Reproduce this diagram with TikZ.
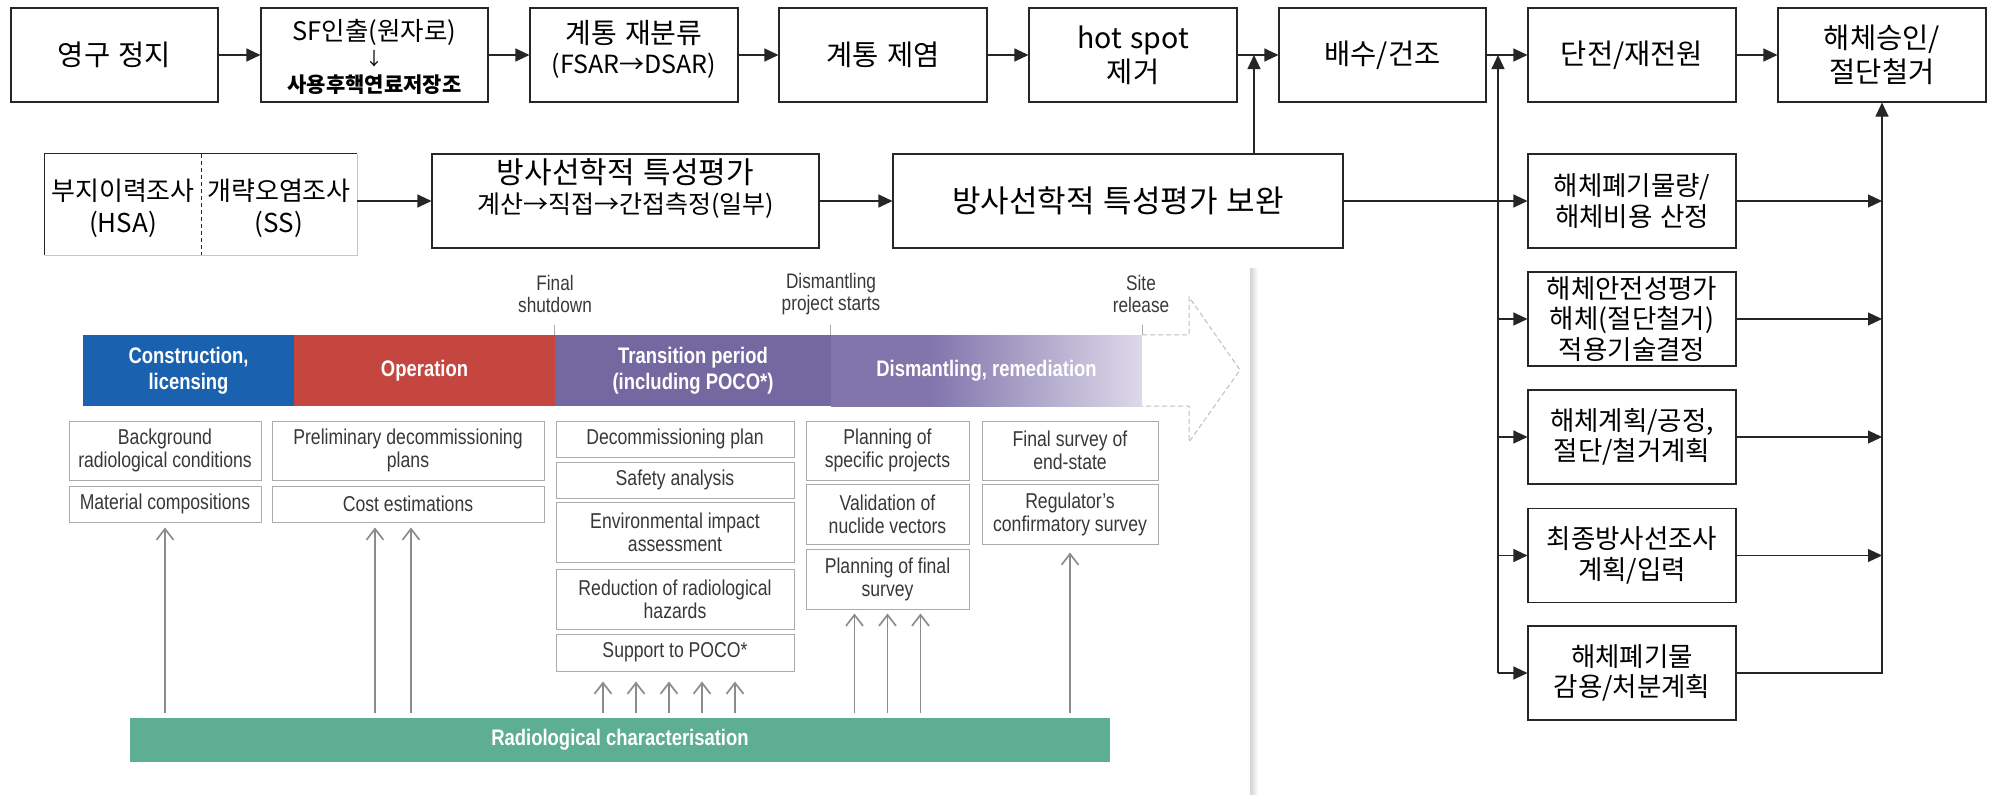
\documentclass[tikz,border=0pt]{standalone}
\usepackage{fontspec}
\usetikzlibrary{arrows.meta,calc}
\newfontfamily\krfont[WordSpace=1.3]{Noto Sans CJK KR}
\newfontfamily\enfont[FakeStretch=0.82]{Liberation Sans}
\newcommand\fsz[2]{\fontsize{#1}{#2}\selectfont}

\definecolor{kline}{HTML}{262626}
\definecolor{phblue}{HTML}{1A62AF}
\definecolor{phred}{HTML}{C4463E}
\definecolor{phpurple}{HTML}{7468A0}
\definecolor{dmA}{HTML}{8175AC}
\definecolor{dmB}{HTML}{DDD9E9}
\definecolor{rcgreen}{HTML}{5EAE93}
\definecolor{fline}{HTML}{ABABAB}
\definecolor{ftext}{HTML}{383838}
\definecolor{farrow}{HTML}{8C8C8C}

% left third solid, then fading towards the site release
\pgfdeclarehorizontalshading{dismantle}{100bp}{color(0bp)=(dmA); color(41bp)=(dmA); color(75bp)=(dmB); color(100bp)=(dmB)}

\begin{document}
\begin{tikzpicture}[x=1pt,y=-1pt,
  kbox/.style={draw=kline, line width=1.1pt, align=center, inner sep=0pt,
    minimum height=94pt, font=\krfont\fsz{28.5}{34}},
  rbox/.style={kbox, minimum width=208pt, font=\krfont\fsz{26.5}{30.5}},
  ktext/.style={inner sep=0pt, font=\krfont\fsz{#1}{#1}},
  kbold/.style={inner sep=0pt, font=\krfont\bfseries\fsz{#1}{#1}},
  karr/.style={draw=kline, line width=1.1pt, -{Triangle[length=14pt,width=13pt]}},
  phase/.style={minimum height=71pt, inner sep=0pt, text=white, align=center,
    font=\enfont\bfseries\fsz{22.5}{26}},
  fbox/.style={draw=fline, line width=1pt, fill=white, text=ftext, align=center,
    inner sep=0pt, font=\enfont\fsz{21.5}{23}},
  farr/.style={draw=farrow, line width=1.7pt, -{Straight Barb[length=11pt,width=17pt]},
    shorten <=5pt},
  mile/.style={text=ftext, align=center, font=\enfont\fsz{21}{22}},
  tick/.style={draw=fline, line width=1pt}]
\useasboundingbox (0,0) rectangle (1995,795);

% ---------------- main process line ----------------
\node[kbox, minimum width=207pt] (b1) at (114.5,55) {영구 정지};
\node[kbox, minimum width=227pt] (b2) at (374.5,55) {};
\node[ktext=25.5] (b2a) at (374.5,32) {SF인출(원자로)};
\node[ktext=18] (b2b) at (374.5,59) {↓};
\node[kbold=21] (b2c) at (374.5,85) {사용후핵연료저장조};
\node[kbox, minimum width=208pt] (b3) at (634,55) {};
\node[ktext=28] (b3a) at (634,33) {계통 재분류};
\node[ktext=25] (b3b) at (634,66) {(FSAR→DSAR)};
\node[kbox, minimum width=208pt] (b4) at (883,55) {계통 제염};
\node[kbox, minimum width=208pt] (b5) at (1133,55) {hot spot\\제거};
\node[kbox, minimum width=207pt] (b6) at (1382.5,55) {배수/건조};
\node[kbox, minimum width=208pt] (b7) at (1632,55) {단전/재전원};
\node[kbox, minimum width=208pt] (b8) at (1882,55) {해체승인/\\절단철거};

\foreach \a/\b in {b1/b2,b2/b3,b3/b4,b4/b5,b5/b6,b6/b7,b7/b8}
  \draw[karr] (\a) -- (\b);

% ---------------- characterisation line ----------------
\node[minimum width=312pt, minimum height=101pt, inner sep=0pt] (hsa) at (201,204.5) {};
\draw[kline, line width=1.1pt] (hsa.south west) -- (hsa.north west) -- (hsa.north east);
\draw[gray!45, line width=1pt] (hsa.north east) -- (hsa.south east) -- (hsa.south west);
\draw[kline, line width=1pt, dashed, dash pattern=on 4pt off 3pt] (hsa.north) -- (hsa.south);
\node[align=center, font=\krfont\fsz{26}{32}] (hsaL) at (123,208) {부지이력조사\\(HSA)};
\node[align=center, font=\krfont\fsz{26}{32}] (hsaR) at (279,208) {개략오염조사\\(SS)};

\node[kbox, minimum width=387pt] (c1) at (625.5,201) {};
\node[ktext=30] (c1a) at (625.5,172) {방사선학적 특성평가};
\node[ktext=25] (c1b) at (625.5,206) {계산→직접→간접측정(일부)};
\node[kbox, minimum width=450pt, font=\krfont\fsz{31}{34}] (c2) at (1118,201)
  {방사선학적 특성평가 보완};

\draw[karr] (hsa.east |- c1.west) -- (c1.west);
\draw[karr] (c1) -- (c2);

% ---------------- planning boxes ----------------
\node[rbox] (r1) at (1632,201) {해체폐기물량/\\해체비용 산정};
\node[rbox] (r2) at (1632,319) {해체안전성평가\\해체(절단철거)\\적용기술결정};
\node[rbox] (r3) at (1632,437) {해체계획/공정,\\절단/철거계획};
\node[rbox] (r4) at (1632,555.5) {최종방사선조사\\계획/입력};
\node[rbox] (r5) at (1632,673) {해체폐기물\\감용/처분계획};

\coordinate (j1) at (1254,55);
\coordinate (j2) at (1498,55);
\draw[karr] (c2) -- (r1);
\draw[karr] (c2.north -| j1) -- (j1);
\draw[karr] (r5.west -| j2) -- (j2);
\foreach \r in {r2,r3,r4,r5}
  \draw[karr] (\r.west -| j2) -- (\r.west);
\foreach \r in {r1,r2,r3,r4}
  \draw[karr] (\r.east) -- (\r.east -| b8.south);
\draw[karr] (r5.east) -| (b8.south);

% ---------------- life-cycle figure ----------------
\node[phase, fill=phblue, minimum width=211pt] (ph1) at (188.5,370.5) {Construction,\\licensing};
\node[phase, fill=phred, minimum width=261pt] (ph2) at (424.5,370.5) {Operation};
\node[phase, fill=phpurple, minimum width=276pt] (ph3) at (693,370.5) {Transition period\\(including POCO*)};
\node[phase, shading=dismantle, minimum width=311pt] (ph4) at (986.5,370.5) {Dismantling, remediation};

\draw[dashed, dash pattern=on 5pt off 3pt, draw=gray!50, line width=1pt]
  (ph4.north east) -- (1189,335) -- (1189,297) -- (1240,370) -- (1189,442)
  -- (1189,406) -- (ph4.south east);

\node[mile] (m1) at (555,294) {Final\\shutdown};
\node[mile] (m2) at (831,294) {Dismantling\\project starts};
\node[mile] (m3) at (1141,294) {Site\\release};
\draw[tick] (ph3.north west) -- ++(0,-10);
\draw[tick] (ph4.north west) -- ++(0,-10);
\draw[tick] (ph4.north east) -- ++(0,-10);

\node[fbox, minimum width=192pt, minimum height=59pt] (bg) at (165,450.5) {Background\\radiological conditions};
\node[fbox, minimum width=192pt, minimum height=36pt] (mat) at (165,504) {Material compositions};
\node[fbox, minimum width=272pt, minimum height=59pt] (prel) at (408,450.5) {Preliminary decommissioning\\plans};
\node[fbox, minimum width=272pt, minimum height=36pt] (cost) at (408,504) {Cost estimations};

\node[fbox, minimum width=238pt, minimum height=36pt] (dplan) at (675,439) {Decommissioning plan};
\node[fbox, minimum width=238pt, minimum height=36pt] (safe) at (675,480) {Safety analysis};
\node[fbox, minimum width=238pt, minimum height=60pt] (env) at (675,532) {Environmental impact\\assessment};
\node[fbox, minimum width=238pt, minimum height=60pt] (hazard) at (675,599) {Reduction of radiological\\hazards};
\node[fbox, minimum width=238pt, minimum height=37pt] (poco) at (675,652.5) {Support to POCO*};

\node[fbox, minimum width=163pt, minimum height=59pt] (pspec) at (887.5,450.5) {Planning of\\specific projects};
\node[fbox, minimum width=163pt, minimum height=60pt] (valid) at (887.5,514) {Validation of\\nuclide vectors};
\node[fbox, minimum width=163pt, minimum height=60pt] (pfinal) at (887.5,579) {Planning of final\\survey};

\node[fbox, minimum width=176pt, minimum height=59pt] (fsurv) at (1070,450.5) {Final survey of\\end-state};
\node[fbox, minimum width=176pt, minimum height=60pt] (reg) at (1070,514) {Regulator’s\\confirmatory survey};

\node[fill=rcgreen, minimum width=980pt, minimum height=44pt, inner sep=0pt, text=white,
  font=\enfont\bfseries\fsz{22.5}{24}] (rc) at (620,740) {Radiological characterisation};

% characterisation feeding every phase
\draw[farr, shorten >=5pt] (rc.north -| mat.south) -- (mat.south);
\foreach \dx in {-33,3}
  \draw[farr, shorten >=5pt] ($(cost.south |- rc.north)+(\dx,0)$) -- ($(cost.south)+(\dx,0)$);
\foreach \dx in {-72,-39,-6,27,60}
  \draw[farr, shorten >=10pt] ($(poco.south |- rc.north)+(\dx,0)$) -- ($(poco.south)+(\dx,0)$);
\foreach \dx in {-33,0,33}
  \draw[farr, shorten >=4pt] ($(pfinal.south |- rc.north)+(\dx,0)$) -- ($(pfinal.south)+(\dx,0)$);
\draw[farr, shorten >=8pt] (rc.north -| reg.south) -- (reg.south);

% frame edge of the figure
\shade[left color=gray!35, right color=white] (1250,268) rectangle (1258,795);
\end{tikzpicture}
\end{document}
